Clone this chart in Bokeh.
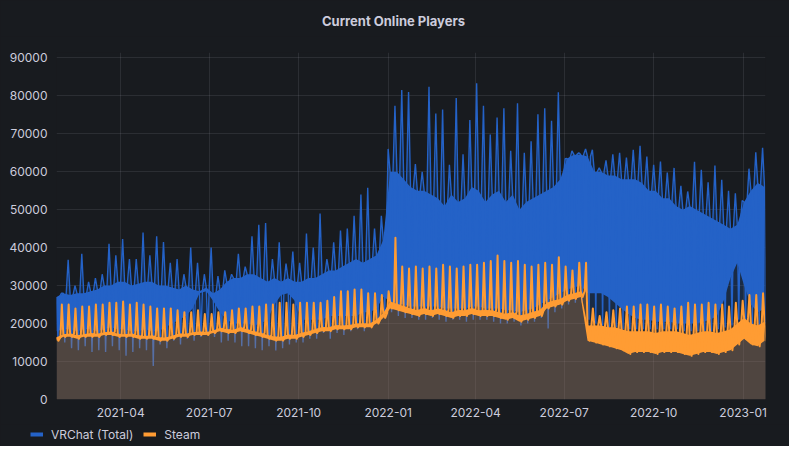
import numpy as np
import pandas as pd
from bokeh.plotting import figure
from bokeh.layouts import column
from bokeh.models import (FixedTicker, NumeralTickFormatter, DatetimeTickFormatter,
                          Legend, LegendItem, Label, Range1d)
from bokeh.embed import file_html
from bokeh.resources import INLINE

# ---------------- data (weekly readings from the picture) ----------------
first_week = "2021-01-25"
view_start = "2021-01-25"
view_end = "2023-01-24"
title_text = "Current Online Players"
series_names = ["VRChat (Total)", "Steam"]
x_tick_labels = ["2021-04", "2021-07", "2021-10", "2022-01", "2022-04",
                 "2022-07", "2022-10", "2023-01"]
y_ticks = [0, 10000, 20000, 30000, 40000, 50000, 60000, 70000, 80000, 90000]

# VRChat (Total): weekly spike top, upper edge of daily range, lower edge of daily range, weekly dip
vr_peak = [28000, 36800, 30000, 38400, 31000, 32000, 33000, 41000, 38000, 42300,
           37000, 37000, 44000, 38000, 43000, 41500, 36000, 37000, 33000, 40000,
           36000, 33000, 40000, 32500, 34000,
           33000, 38400, 35000, 43000, 46000, 46500, 37000, 41400, 35800, 39000,
           36000, 43700, 40000, 49000, 37000, 41400, 44500, 45000, 48400, 54000,
           55800, 45000, 48400, 66000,
           77400, 81500, 81000, 62000, 60000, 82400, 75300, 76400, 61800, 79400,
           64600, 73600, 83300, 77400, 69800, 74300, 76700, 65500, 78000, 65000,
           68000, 75100, 76700, 73400, 80900, 63400, 65500, 65000, 66000, 65800,
           61000, 63000, 64600, 65000, 63700, 65800, 66800, 64000, 61800, 62700,
           59800, 61000, 56300, 54800, 62600, 60500, 57200, 61600, 57900, 55000,
           54300, 52400, 60800, 65100, 66300, 66600]
vr_ceil = [27000, 28000, 27500, 28000, 28000, 28500, 29000, 30000, 30000, 31000,
           31000, 30000, 30500, 31000, 31000, 30000, 30000, 29500, 29000, 30000,
           29000, 28500, 29500, 28000, 29000,
           31000, 32000, 32000, 33000, 33000, 32000, 31000, 32000, 31000, 32000,
           31000, 31000, 32000, 32000, 33000, 34000, 34000, 35000, 36000, 37000,
           36000, 37000, 38000, 42000,
           60000, 60000, 58000, 56000, 55000, 55000, 54000, 53000, 51000, 54000,
           52000, 53000, 56000, 55000, 52000, 54000, 55000, 52000, 54000, 50000,
           52000, 53000, 54000, 55000, 56000, 58000, 63500, 64500, 64500, 64000,
           60000, 60000, 59000, 59000, 58000, 58000, 58000, 57000, 55000, 55000,
           53000, 53000, 51000, 50000, 51000, 50000, 49000, 48000, 47000, 46000,
           45000, 46000, 52000, 55000, 57000, 56000]
vr_floor = [18000, 18500, 18500, 18000, 18500, 18500, 18000, 18500, 19000, 18500,
            18500, 18000, 18000, 18500, 18000, 18000, 19000, 20000, 21000, 22000,
            24000, 28000, 28500, 26000, 23000,
            21000, 20000, 20000, 20000, 19500, 20000, 21000, 25000, 27500, 28000,
            26000, 21000, 21000, 21000, 21000, 22000, 22000, 22000, 22000, 22000,
            23000, 23000, 24000, 27000,
            26000, 25000, 25000, 24500, 24500, 24500, 24500, 24500, 24000, 24000,
            24000, 24000, 24500, 24500, 24000, 24000, 24000, 23500, 23500, 23000,
            23500, 24000, 25000, 26000, 27000, 28000, 29000, 29500, 30000, 28000,
            28000, 28000, 27000, 25500, 24000, 22500, 21500, 21000, 21000, 20500,
            20500, 20500, 20000, 20000, 20000, 20000, 20500, 21000, 22000, 26000,
            32000, 36000, 30000, 25000, 23000, 24000]
vr_low = [16000, 15000, 13500, 13000, 14000, 12500, 13000, 12500, 14000, 13000,
          11500, 12500, 13500, 13000, 8800, 14500, 13500, 15500, 14500, 16000,
          15500, 16500, 17000, 16500, 15000,
          15500, 15000, 14000, 14000, 13500, 13000, 14000, 12900, 13500, 14500,
          15000, 15000, 16000, 16000, 17500, 16000, 17500, 17000, 18000, 18500,
          18000, 19000, 20000, 22000,
          23000, 22000, 21500, 21500, 21000, 21000, 21500, 21000, 20500, 21000,
          21000, 20500, 21000, 21000, 21000, 20500, 20000, 20000, 20500, 19500,
          20000, 20500, 21500, 18700, 23000, 24000, 25000, 25500, 25500, 21000,
          20000, 19500, 19000, 19000, 18500, 18500, 18500, 18500, 18500, 18500,
          18500, 18500, 18500, 18000, 18000, 18000, 18000, 18000, 18500, 19000,
          19500, 21000, 20000, 19500, 19500, 20000]

# Steam: weekly spike top, upper edge of daily range, weekly low
steam_peak = [25000, 25000, 24000, 24500, 24500, 25000, 25000, 25500, 25500, 25800,
              25000, 25500, 25000, 24500, 24000, 24000, 24000, 23500, 23000, 23000,
              23500, 22500, 22500, 23000, 23000,
              23500, 24000, 24000, 24500, 24500, 25000, 25000, 25500, 25500, 25000,
              25500, 25500, 25500, 25500, 26000, 27000, 28500, 28500, 29000, 29000,
              28000, 28000, 27500, 28500,
              42600, 35000, 34500, 35000, 34500, 35000, 34500, 35500, 35000, 34500,
              35000, 35500, 35500, 36000, 36500, 37900, 36500, 36000, 36500, 35500,
              35000, 35500, 36000, 35500, 37500, 35000, 34000, 36000, 36000, 24000,
              22000, 23000, 23500, 24000, 24500, 24500, 25000, 25000, 24500, 25000,
              24500, 24000, 24500, 25500, 25000, 25000, 25500, 25000, 25000, 24500,
              25500, 26000, 27500, 27500, 28000, 28000]
steam_ceil = [16400, 17200, 17400, 16900, 17200, 17500, 17300, 17700, 17900, 17300,
              17200, 17400, 16900, 16700, 16900, 16400, 16300, 16800, 17400, 17300,
              17700, 17900, 17800, 18200, 18900,
              18600, 18400, 19100, 18500, 18000, 17600, 17000, 16600, 16500, 17100,
              17000, 17600, 18000, 18600, 19100, 19000, 19600, 19500, 19600, 20000,
              20100, 20000, 21100, 22800,
              25800, 25200, 24600, 24000, 23600, 24100, 23500, 24000, 23600, 23000,
              23600, 23500, 24100, 23500, 23600, 23500, 23000, 22600, 23000, 22100,
              22500, 23100, 23600, 25500, 26100, 26500, 27600, 28000, 28500, 19500,
              19500, 19500, 19000, 19000, 18500, 18000, 18000, 18000, 18000, 17500,
              18000, 18000, 18000, 17500, 17000, 17500, 18000, 18000, 17500, 18000,
              18500, 20000, 21500, 20000, 19500, 20500]
steam_low = [15500, 16500, 16500, 16000, 16500, 16500, 16500, 17000, 17000, 16500,
             16500, 16500, 16000, 16000, 16000, 15500, 15500, 16000, 16500, 16500,
             17000, 17000, 17000, 17500, 18000,
             17500, 17500, 18000, 17500, 17000, 16500, 16000, 15500, 15500, 16000,
             16000, 16500, 17000, 17500, 18000, 18000, 18500, 18500, 18500, 19000,
             19000, 19000, 20000, 21500,
             24000, 23500, 23000, 22500, 22000, 22500, 22000, 22500, 22000, 21500,
             22000, 22000, 22500, 22000, 22000, 22000, 21500, 21000, 21500, 20500,
             21000, 21500, 22000, 24000, 24500, 25000, 26000, 26500, 27000, 15500,
             15000, 14500, 14000, 13500, 13000, 12000, 12500, 12500, 12500, 12000,
             12500, 12500, 12500, 12000, 11500, 12000, 12500, 12500, 12000, 12500,
             13000, 14500, 16000, 14500, 14000, 15500]

# ---------------- build series ----------------
n = min(len(vr_peak), len(vr_ceil), len(vr_floor), len(vr_low),
        len(steam_peak), len(steam_ceil), len(steam_low))
weeks = pd.date_range(first_week, periods=n, freq="7D")


def weekly_points(columns, offsets):
    xs, ys = [], []
    for i in range(n):
        for off, col in zip(offsets, columns):
            xs.append(weeks[i] + pd.Timedelta(hours=int(off * 24)))
            ys.append(col[i])
    return xs, ys


vr_x, vr_y = weekly_points([vr_ceil, vr_low, vr_ceil, vr_peak], [0, 1.5, 3, 5])
st_x, st_y = weekly_points([steam_ceil, steam_low, steam_ceil, steam_peak], [0, 2, 4, 5.5])

BLUE = "#2462c7"
ORANGE = "#ff9c33"
PANEL = "#181b1f"
TEXT = "#ccccdc"
FONT = "Inter"
W = 789


def strip(height):
    f = figure(width=W, height=height, x_range=Range1d(0, 1), y_range=Range1d(0, 1),
               x_axis_location=None, y_axis_location=None, toolbar_location=None,
               output_backend="svg", min_border=0, outline_line_color=None,
               background_fill_color=PANEL, border_fill_color=PANEL)
    f.frame_align = False
    f.outline_line_alpha = 0
    f.grid.grid_line_color = None
    f.grid.visible = False
    return f


# ---- title strip ----
t = strip(36)
t.add_layout(Label(x=393 / W, y=1 - 20 / 36, text=title_text, text_align="center",
                   text_baseline="middle", text_color=TEXT, text_font=FONT,
                   text_font_size="13px", text_font_style="bold"))

# ---- main chart ----
x0 = pd.Timestamp(view_start)
x1 = pd.Timestamp(view_end)

p = figure(width=W, height=388, x_axis_type="datetime", title=None,
           output_backend="svg", toolbar_location=None,
           x_range=Range1d(x0, x1), y_range=Range1d(0, 91400),
           min_border_left=56, min_border_right=24, min_border_top=16, min_border_bottom=25,
           background_fill_color=PANEL, border_fill_color=PANEL, outline_line_color=None)
p.frame_align = False
p.outline_line_alpha = 0

# VRChat (Total)
p.varea(x=vr_x, y1=0, y2=vr_y, fill_color=BLUE, fill_alpha=0.22)
p.varea(x=list(weeks[:n]), y1=vr_floor[:n], y2=vr_ceil[:n], fill_color=BLUE, fill_alpha=1.0)
p.line(x=vr_x, y=vr_y, line_color=BLUE, line_width=1.4)

# Steam
p.varea(x=st_x, y1=0, y2=st_y, fill_color=ORANGE, fill_alpha=0.23)
p.varea(x=list(weeks[:n]), y1=steam_low[:n], y2=steam_ceil[:n], fill_color=ORANGE, fill_alpha=1.0)
p.line(x=st_x, y=st_y, line_color=ORANGE, line_width=2, line_join="round")

# axes
tick_ms = [pd.Timestamp(tl + "-01").value // 10**6 for tl in x_tick_labels]
p.xaxis.ticker = FixedTicker(ticks=tick_ms)
fmt = "%Y-%m"
p.xaxis.formatter = DatetimeTickFormatter(microseconds=fmt, milliseconds=fmt, seconds=fmt,
                                          minsec=fmt, minutes=fmt, hourmin=fmt, hours=fmt,
                                          days=fmt, months=fmt, years=fmt)
p.yaxis.ticker = FixedTicker(ticks=y_ticks)
p.yaxis.formatter = NumeralTickFormatter(format="0")
for ax in (p.xaxis, p.yaxis):
    ax.axis_line_color = None
    ax.major_tick_line_color = None
    ax.minor_tick_line_color = None
    ax.major_tick_out = 0
    ax.major_tick_in = 0
    ax.minor_tick_out = 0
    ax.minor_tick_in = 0
    ax.major_label_text_color = TEXT
    ax.major_label_text_font = FONT
    ax.major_label_text_font_size = "12px"
p.yaxis.major_label_standoff = 9
p.xaxis.major_label_standoff = 8
p.grid.grid_line_color = TEXT
p.grid.grid_line_alpha = 0.11
p.xgrid.ticker = FixedTicker(ticks=tick_ms)
p.ygrid.ticker = FixedTicker(ticks=y_ticks)

# ---- legend strip ----
q = strip(22)
lg_vr = q.line(x=[-5, -4], y=[-5, -4], line_color=BLUE, line_width=4)
lg_st = q.line(x=[-5, -4], y=[-5, -4], line_color=ORANGE, line_width=4)
legend = Legend(items=[LegendItem(label=series_names[0], renderers=[lg_vr]),
                       LegendItem(label=series_names[1], renderers=[lg_st])],
                location=(30, 4), orientation="horizontal",
                glyph_width=13, glyph_height=16, label_standoff=8, spacing=10,
                padding=0, margin=0, background_fill_alpha=0, border_line_color=None,
                label_text_color=TEXT, label_text_font=FONT, label_text_font_size="12px",
                label_height=16)
q.add_layout(legend)

page = column(t, p, q, spacing=0, styles={"background-color": PANEL})
open("out.html", "w").write(file_html(page, INLINE))
